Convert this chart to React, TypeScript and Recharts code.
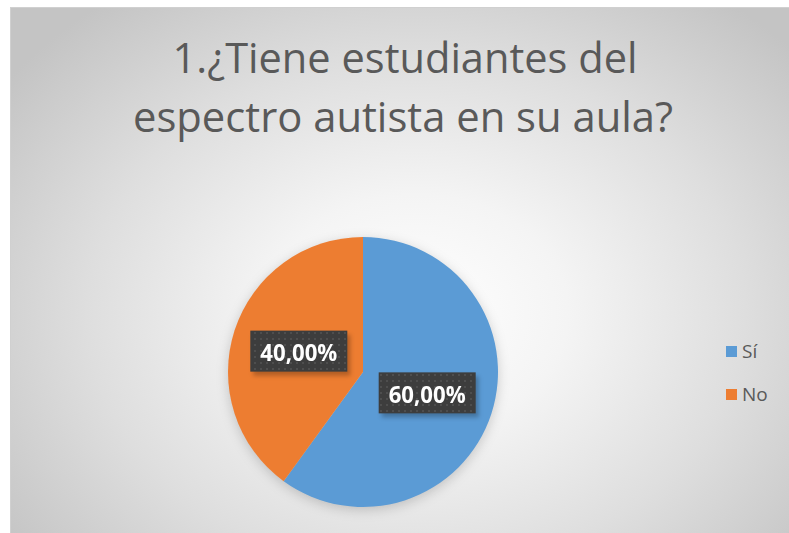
import React from "react";
import { PieChart, Pie, Cell } from "recharts";

const categories = ["Sí", "No"];
const values = [60, 40];
const labelTexts = ["60,00%", "40,00%"];
const colors = ["#5B9BD5", "#ED7D31"];
const titleLines = ["1.¿Tiene estudiantes del", "espectro autista en su aula?"];

const data = categories.map((name, i) => ({ name, value: values[i], label: labelTexts[i] }));

const RAD = Math.PI / 180;

const renderLabel = (props: any) => {
  const { cx, cy, midAngle, outerRadius, index } = props;
  const r = outerRadius * 0.5;
  const x = cx + r * Math.cos(-midAngle * RAD);
  const y = cy + r * Math.sin(-midAngle * RAD);
  const w = 97;
  const h = 41;
  const pid = `dots${index}`;
  return (
    <g>
      <defs>
        <pattern id={pid} width="6" height="6" patternUnits="userSpaceOnUse">
          <rect width="6" height="6" fill="#3d3d3d" />
          <circle cx="3" cy="3" r="1" fill="#545454" />
        </pattern>
      </defs>
      <rect x={x - w / 2 + 3} y={y - h / 2 + 4} width={w} height={h} fill="rgba(0,0,0,0.25)" style={{ filter: "blur(2px)" }} />
      <rect x={x - w / 2} y={y - h / 2} width={w} height={h} fill={`url(#${pid})`} />
      <text
        x={x}
        y={y + 1}
        textAnchor="middle"
        dominantBaseline="central"
        fill="#ffffff"
        fontFamily="'Open Sans', 'Noto Sans', sans-serif"
        fontWeight={700}
        fontSize={23}
        textLength={77}
        lengthAdjust="spacingAndGlyphs"
      >
        {data[index].label}
      </text>
    </g>
  );
};

export default function App() {
  return (
    <div style={{ position: "fixed", left: 0, top: 0, width: 789, height: 533, background: "#ffffff", overflow: "hidden" }}>
      <div
        style={{
          position: "absolute",
          left: 10,
          top: 7,
          width: 779,
          height: 526,
          background: "radial-gradient(ellipse 65% 75% at 52% 58%, #ffffff 0%, #f4f4f4 30%, #dedede 65%, #c4c4c4 100%)",
          borderTop: "1px solid #d0d0d0",
          borderLeft: "1px solid #d0d0d0",
        }}
      />
      <svg width={789} height={533} style={{ position: "absolute", left: 0, top: 0 }}>
        <text x={405} y={73} textAnchor="middle" fill="#595959" fontFamily="'Open Sans', 'Noto Sans', sans-serif" fontSize={42} textLength={465} lengthAdjust="spacingAndGlyphs">
          {titleLines[0]}
        </text>
        <text x={403} y={132} textAnchor="middle" fill="#595959" fontFamily="'Open Sans', 'Noto Sans', sans-serif" fontSize={42} textLength={540} lengthAdjust="spacingAndGlyphs">
          {titleLines[1]}
        </text>
      </svg>
      <div style={{ position: "absolute", left: 0, top: 0, filter: "drop-shadow(0px 3px 6px rgba(0,0,0,0.18))" }}>
        <PieChart width={789} height={533} margin={{ top: 0, right: 0, bottom: 0, left: 0 }}>
          <Pie
            data={data}
            dataKey="value"
            nameKey="name"
            cx={363}
            cy={372}
            outerRadius={135}
            startAngle={90}
            endAngle={-270}
            stroke="none"
            labelLine={false}
            label={renderLabel}
            isAnimationActive={false}
          >
            {data.map((d, i) => (
              <Cell key={d.name} fill={colors[i]} />
            ))}
          </Pie>
        </PieChart>
      </div>
      {categories.map((c, i) => (
        <div
          key={c}
          style={{
            position: "absolute",
            left: 726,
            top: 338 + i * 43,
            display: "flex",
            alignItems: "center",
            fontFamily: "'Open Sans', 'Noto Sans', sans-serif",
            fontSize: 19,
            color: "#595959",
            height: 26,
          }}
        >
          <span style={{ display: "inline-block", width: 11, height: 11, background: colors[i], marginRight: 5 }} />
          <span>{c}</span>
        </div>
      ))}
    </div>
  );
}
